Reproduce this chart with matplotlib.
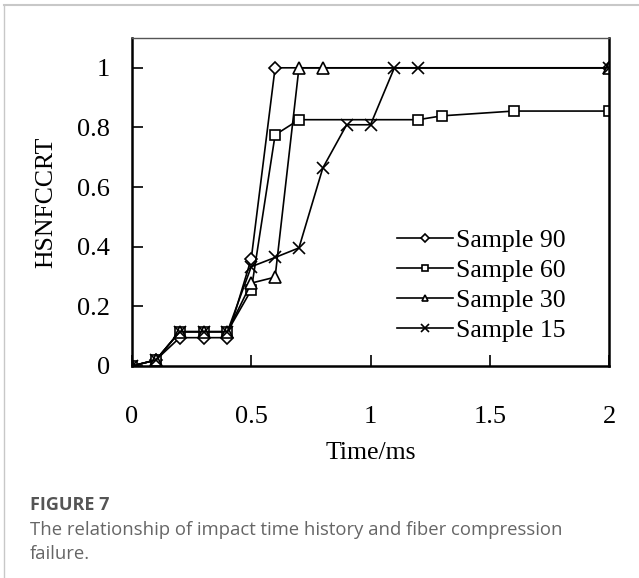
import matplotlib
matplotlib.use("Agg")
import matplotlib.pyplot as plt
from matplotlib.lines import Line2D

# ---- data ----
x90 = [0, 0.1, 0.2, 0.3, 0.4, 0.5, 0.6, 2.0]
y90 = [0, 0.02, 0.095, 0.095, 0.095, 0.36, 1.0, 1.0]

x60 = [0, 0.1, 0.2, 0.3, 0.4, 0.5, 0.6, 0.7, 1.2, 1.3, 1.6, 2.0]
y60 = [0, 0.02, 0.115, 0.115, 0.115, 0.255, 0.775, 0.826, 0.826, 0.839, 0.855, 0.855]

x30 = [0, 0.1, 0.2, 0.3, 0.4, 0.5, 0.6, 0.7, 0.8, 2.0]
y30 = [0, 0.02, 0.115, 0.115, 0.115, 0.278, 0.298, 1.0, 1.0, 1.0]

x15 = [0, 0.1, 0.2, 0.3, 0.4, 0.5, 0.6, 0.7, 0.8, 0.9, 1.0, 1.1, 1.2, 2.0]
y15 = [0, 0.02, 0.115, 0.115, 0.115, 0.333, 0.364, 0.396, 0.664, 0.809, 0.809, 1.0, 1.0, 1.0]

labels = ["Sample 90", "Sample 60", "Sample 30", "Sample 15"]
xticks = [0, 0.5, 1, 1.5, 2]
xticklabels = ["0", "0.5", "1", "1.5", "2"]
yticks = [0, 0.2, 0.4, 0.6, 0.8, 1.0]
yticklabels = ["0", "0.2", "0.4", "0.6", "0.8", "1"]

serif = "Liberation Serif"

fig = plt.figure(figsize=(6.39, 5.78), dpi=100)
ax = fig.add_axes([132/639, 1-366/578, (609-132)/639, (366-38)/578])

series = [(x90, y90, "D", 6.5), (x60, y60, "s", 7), (x30, y30, "^", 8), (x15, y15, "x", 9)]
for (xs, ys, m, ms), lab in zip(series, labels):
    ax.plot(xs, ys, color="black", lw=1.2, marker=m, markersize=ms,
            markerfacecolor="white", markeredgecolor="black", markeredgewidth=1.2,
            label=lab)

ax.set_xlim(0, 2)
ax.set_ylim(0, 1.1)
ax.set_xticks(xticks)
ax.set_xticklabels(xticklabels, fontfamily=serif, fontsize=19)
ax.set_yticks(yticks)
ax.set_yticklabels(yticklabels, fontfamily=serif, fontsize=19)
ax.tick_params(axis="both", direction="in", length=8, width=1.2, colors="black")
ax.tick_params(axis="x", pad=29)
ax.tick_params(axis="y", pad=16)
for side in ["left", "bottom", "right"]:
    ax.spines[side].set_linewidth(1.8)
ax.spines["top"].set_linewidth(1.0)
ax.spines["top"].set_color("#555555")

ax.set_xlabel("Time/ms", fontfamily=serif, fontsize=18.5, labelpad=10)
ax.set_ylabel("HSNFCCRT", fontfamily=serif, fontsize=18.5, labelpad=14)

leg = ax.legend(loc="upper left", bbox_to_anchor=(0.555, 0.418), frameon=False,
                prop={"family": serif, "size": 18.5}, markerscale=0.6,
                handlelength=2.2, handletextpad=0.1, labelspacing=0.28,
                borderpad=0, borderaxespad=0)

# outer light frame
fig.add_artist(Line2D([4/639, 1], [1-5/578, 1-5/578], color="#c8c8c8", lw=1.5,
                      transform=fig.transFigure))
fig.add_artist(Line2D([4/639, 4/639], [0, 1-5/578], color="#c8c8c8", lw=1.0,
                      transform=fig.transFigure))

fig.text(30/639, 1-505/578, "FIGURE 7", fontfamily="Open Sans", fontweight="bold",
         fontsize=13, color="#555555", va="center", ha="left")
fig.text(30/639, 1-530/578, "The relationship of impact time history and fiber compression",
         fontfamily="Open Sans", fontsize=13.3, color="#666666", va="center", ha="left")
fig.text(30/639, 1-554/578, "failure.", fontfamily="Open Sans", fontsize=13.3,
         color="#666666", va="center", ha="left")

fig.savefig("out.png", dpi=100)
